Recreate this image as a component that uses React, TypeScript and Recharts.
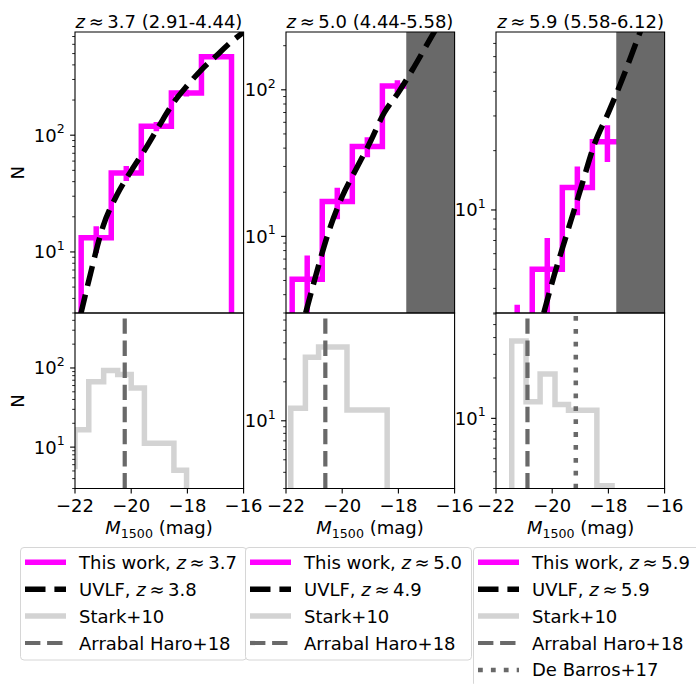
import React from 'react';
import { ComposedChart, Line, XAxis, YAxis, ReferenceArea, ReferenceLine } from 'recharts';

// ---------- style constants ----------
const FONT = '"DejaVu Sans", Verdana, sans-serif';
const FS = 18;
const FS_SMALL = 12.6;
const MAGENTA = '#ff00ff';
const LIGHT = '#d3d3d3';
const DIM = '#696969';

// ---------- data ----------
const X_DOMAIN: [number, number] = [-22, -16];
const X_TICKS = [-22, -20, -18, -16];
const X_TICK_LABELS = ['\u221222', '\u221220', '\u221218', '\u221216'];

const PANEL_Z = ['3.7', '5.0', '5.9'];
const PANEL_RANGE = ['(2.91-4.44)', '(4.44-5.58)', '(5.58-6.12)'];
const UVLF_Z = ['3.8', '4.9', '5.9'];

// y-axis limits (log)
const TOP_YLIM: [number, number][] = [[3, 765], [3, 248], [3, 80]];
const BOT_YLIM: [number, number][] = [[3, 495], [3, 68], [3, 61]];

// This work: step histogram (bin edges in M1500)
const BIN_EDGES = [-21.78, -20.71, -19.64, -18.57, -17.5, -16.43];
const BIN_CENTERS = [-21.245, -20.175, -19.105, -18.035, -16.965];
const THIS_WORK_Z37 = [13.2, 47.5, 119, 230, 469];
const THIS_WORK_Z37_ERR = [3.4, 6.9, 10.9, 15.2, 21.7];
const THIS_WORK_Z50 = [5.1, 17.3, 41, 106];
const THIS_WORK_Z50_ERR = [2.3, 4.2, 6.4, 10.3];
const THIS_WORK_Z59 = [1.9, 5.0, 13.0, 22.2];
const THIS_WORK_Z59_ERR = [1.4, 2.2, 3.6, 4.7];

// UVLF curves
const UVLF_Z38_MAG = [-21.8, -21.5, -21.0, -20.5, -20.0, -19.5, -19.0, -18.5, -18.0, -17.5, -17.0, -16.5, -16.0];
const UVLF_Z38_N = [2.9, 5.8, 16.6, 31, 49.5, 76, 121, 189, 267, 363, 471, 612, 765];
const UVLF_Z49_MAG = [-21.3, -21.0, -20.5, -20.0, -19.5, -19.0, -18.5, -18.0, -17.5, -17.0, -16.5];
const UVLF_Z49_N = [3.0, 4.9, 10.5, 18.7, 28.9, 44.2, 70, 96, 137, 201, 295];
const UVLF_Z59_MAG = [-20.3, -20.0, -19.5, -19.0, -18.5, -18.0, -17.5, -17.0, -16.5];
const UVLF_Z59_N = [3.0, 4.3, 7.4, 12.6, 21.5, 31.2, 46.3, 71.5, 110];

// Stark+10 step histograms
const STARK_Z37_EDGES = [-22.5, -22.0, -21.51, -20.98, -20.48, -20.0, -19.53, -18.48, -18.03];
const STARK_Z37_N = [5.7, 16.6, 67, 93, 83, 56, 11.2, 5.1];
const STARK_Z50_EDGES = [-21.83, -21.31, -20.84, -19.83, -18.4];
const STARK_Z50_N = [12.5, 31, 37.2, 12.1];
const STARK_Z59_EDGES = [-21.44, -20.93, -20.43, -19.9, -19.42, -18.41, -17.87];
const STARK_Z59_N = [37.8, 13.3, 21.4, 12.7, 11.5, 3.14];

// reference vertical lines
const ARRABAL_HARO = [-20.23, -20.6, -20.88];
const DE_BARROS_Z59 = -19.16;

// incompleteness shading start
const SHADE_START = [null, -17.72, -17.72];

// histogram baseline (zero; below the log axis, so clipped)
const HIST_FLOOR = 0.1;

// ---------- layout ----------
const PANEL_LEFT = [74.7, 285.7, 496.3];
const PANEL_W = 168.6;
const TOP_Y = 32.3;
const MID_Y = 313.3;
const BOT_Y = 488.8;

const ML = 70;
const MT = 10;
const MR = 30;

function stepTable(edges: number[], values: number[]) {
  const rows: { x: number; y: number }[] = [{ x: edges[0], y: HIST_FLOOR }];
  values.forEach((v, i) => rows.push({ x: edges[i], y: v }));
  rows.push({ x: edges[values.length], y: values[values.length - 1] });
  rows.push({ x: edges[values.length], y: HIST_FLOOR });
  return rows;
}

function curveTable(xs: number[], ys: number[]) {
  return xs.map((x, i) => ({ x, y: ys[i] }));
}

function logTicks(lo: number, hi: number) {
  const out: number[] = [];
  for (let e = -1; e <= 4; e++) {
    for (let m = 1; m <= 9; m++) {
      const v = m * Math.pow(10, e);
      if (v >= lo - 1e-9 && v <= hi * 0.995) out.push(Number(v.toPrecision(6)));
    }
  }
  return out;
}

function YTick(props: any) {
  const { y, payload } = props;
  const v = payload.value;
  const ex = Math.log10(v);
  const major = Math.abs(ex - Math.round(ex)) < 1e-6;
  return (
    <g>
      <line
        x1={ML - (major ? 4.9 : 2.8)}
        x2={ML}
        y1={y}
        y2={y}
        stroke="#000"
        strokeWidth={major ? 1.1 : 0.85}
      />
      {major && (
        <text x={ML - 10.3} y={y + 6.5} textAnchor="end" fontSize={FS} fontFamily={FONT} fill="#000">
          10
          <tspan dy={-8.6} fontSize={FS_SMALL}>
            {Math.round(ex)}
          </tspan>
        </text>
      )}
    </g>
  );
}

function XTick(props: any) {
  const { x, payload, plotBottom } = props;
  const idx = X_TICKS.indexOf(payload.value);
  return (
    <g>
      <line x1={x} x2={x} y1={plotBottom} y2={plotBottom + 4.9} stroke="#000" strokeWidth={1.1} />
      <text x={x} y={plotBottom + 23.6} textAnchor="middle" fontSize={FS} fontFamily={FONT} fill="#000">
        {X_TICK_LABELS[idx]}
      </text>
    </g>
  );
}

function Panel(props: {
  left: number;
  top: number;
  height: number;
  ylim: [number, number];
  showX: boolean;
  children: React.ReactNode;
}) {
  const { left, top, height, ylim, showX, children } = props;
  const chartW = PANEL_W + ML + MR;
  const bottomSpace = showX ? 40 : 10;
  const chartH = height + MT + bottomSpace;
  const plotBottom = MT + height;
  const yTicks = logTicks(ylim[0], ylim[1]);
  return (
    <div style={{ position: 'absolute', left: left - ML, top: top - MT, width: chartW, height: chartH }}>
      <ComposedChart
        width={chartW}
        height={chartH}
        margin={{ top: MT, right: MR, left: 0, bottom: showX ? 0 : bottomSpace }}
      >
        <XAxis
          type="number"
          dataKey="x"
          domain={X_DOMAIN}
          allowDataOverflow
          ticks={X_TICKS}
          interval={0}
          hide={!showX}
          height={40}
          tickLine={false}
          axisLine={false}
          tick={(p: any) => <XTick {...p} plotBottom={plotBottom} />}
        />
        <YAxis
          type="number"
          scale="log"
          domain={ylim}
          allowDataOverflow
          ticks={yTicks}
          interval={0}
          width={ML}
          tickLine={false}
          axisLine={false}
          tick={(p: any) => <YTick {...p} />}
        />
        {children}
        <ReferenceArea
          x1={X_DOMAIN[0]}
          x2={X_DOMAIN[1]}
          y1={ylim[0]}
          y2={ylim[1]}
          fill="none"
          fillOpacity={0}
          stroke="#000"
          strokeWidth={1.1}
          ifOverflow="visible"
          zIndex={700}
        />
      </ComposedChart>
    </div>
  );
}

const THIS_WORK = [THIS_WORK_Z37, THIS_WORK_Z50, THIS_WORK_Z59];
const THIS_WORK_ERR = [THIS_WORK_Z37_ERR, THIS_WORK_Z50_ERR, THIS_WORK_Z59_ERR];
const UVLF = [
  curveTable(UVLF_Z38_MAG, UVLF_Z38_N),
  curveTable(UVLF_Z49_MAG, UVLF_Z49_N),
  curveTable(UVLF_Z59_MAG, UVLF_Z59_N),
];
const STARK = [
  stepTable(STARK_Z37_EDGES, STARK_Z37_N),
  stepTable(STARK_Z50_EDGES, STARK_Z50_N),
  stepTable(STARK_Z59_EDGES, STARK_Z59_N),
];

function topSeries(i: number) {
  const vals = THIS_WORK[i];
  const errs = THIS_WORK_ERR[i];
  const els: React.ReactNode[] = [];
  els.push(
    <Line
      key="hist"
      data={stepTable(BIN_EDGES.slice(0, vals.length + 1), vals)}
      dataKey="y"
      type="stepAfter"
      stroke={MAGENTA}
      strokeWidth={5.5}
      dot={false}
      activeDot={false}
      isAnimationActive={false}
      zIndex={400}
    />
  );
  vals.forEach((v, k) => {
    els.push(
      <Line
        key={'err' + k}
        data={[
          { x: BIN_CENTERS[k], y: v - errs[k] },
          { x: BIN_CENTERS[k], y: v + errs[k] },
        ]}
        dataKey="y"
        type="linear"
        stroke={MAGENTA}
        strokeWidth={5.5}
        dot={false}
        activeDot={false}
        isAnimationActive={false}
        zIndex={400}
      />
    );
  });
  const s = SHADE_START[i];
  if (s !== null) {
    els.push(
      <ReferenceArea
        key="shade"
        x1={s}
        x2={X_DOMAIN[1]}
        fill={DIM}
        fillOpacity={1}
        stroke="none"
        zIndex={450}
      />
    );
  }
  els.push(
    <Line
      key="uvlf"
      data={UVLF[i]}
      dataKey="y"
      type="monotone"
      stroke="#000"
      strokeWidth={5.5}
      strokeDasharray="20.5 8.9"
      dot={false}
      activeDot={false}
      isAnimationActive={false}
      zIndex={500}
    />
  );
  return els;
}

function bottomSeries(i: number) {
  const els: React.ReactNode[] = [];
  els.push(
    <Line
      key="stark"
      data={STARK[i]}
      dataKey="y"
      type="stepAfter"
      stroke={LIGHT}
      strokeWidth={5.5}
      dot={false}
      activeDot={false}
      isAnimationActive={false}
      zIndex={400}
    />
  );
  els.push(
    <ReferenceLine
      key="ah"
      x={ARRABAL_HARO[i]}
      stroke={DIM}
      strokeWidth={4.2}
      strokeDasharray="15.4 6.7"
      zIndex={500}
    />
  );
  if (i === 2) {
    els.push(
      <ReferenceLine
        key="db"
        x={DE_BARROS_Z59}
        stroke={DIM}
        strokeWidth={4.5}
        strokeDasharray="4.8 8.1"
        zIndex={500}
      />
    );
  }
  return els;
}

function ZText({ z }: { z: string }) {
  return (
    <>
      <tspan fontStyle="italic">z</tspan>
      {'\u2009\u2248\u2009' + z}
    </>
  );
}

function LegendBox({ left, col }: { left: number; col: number }) {
  const rows: { label: React.ReactNode; stroke: string; w: number; dash?: string }[] = [
    {
      label: (
        <>
          {'This work, '}
          <ZText z={PANEL_Z[col]} />
        </>
      ),
      stroke: MAGENTA,
      w: 5.5,
    },
    {
      label: (
        <>
          {'UVLF, '}
          <ZText z={UVLF_Z[col]} />
        </>
      ),
      stroke: '#000',
      w: 5.5,
      dash: '20.5 8.9',
    },
    { label: 'Stark+10', stroke: LIGHT, w: 5.5 },
    { label: 'Arrabal Haro+18', stroke: DIM, w: 4.2, dash: '15.4 6.7' },
  ];
  if (col === 2) rows.push({ label: 'De Barros+17', stroke: DIM, w: 4.5, dash: '4.8 8.1' });
  const rowStep = 26.9;
  const h = 112.5 + (rows.length - 4) * rowStep;
  return (
    <svg
      style={{ position: 'absolute', left, top: 547, overflow: 'visible' }}
      width={230}
      height={h + 2}
    >
      <rect x={0.5} y={0.5} width={226} height={h} rx={3.5} ry={3.5} fill="#fff" stroke="#d6d6d6" strokeWidth={1} />
      {rows.map((r, k) => {
        const cy = 15.3 + k * rowStep;
        return (
          <g key={k}>
            <line x1={5} x2={46} y1={cy} y2={cy} stroke={r.stroke} strokeWidth={r.w} strokeDasharray={r.dash} />
            <text x={59} y={cy + 6.5} fontSize={FS} fontFamily={FONT} fill="#000">
              {r.label}
            </text>
          </g>
        );
      })}
    </svg>
  );
}

export default function App() {
  const topH = MID_Y - TOP_Y;
  const botH = BOT_Y - MID_Y;
  return (
    <div
      style={{
        position: 'fixed',
        left: 0,
        top: 0,
        width: 696,
        height: 684,
        overflow: 'hidden',
        background: '#fff',
        fontFamily: FONT,
      }}
    >
      {[0, 1, 2].map((i) => (
        <Panel key={'t' + i} left={PANEL_LEFT[i]} top={TOP_Y} height={topH} ylim={TOP_YLIM[i]} showX={false}>
          {topSeries(i)}
        </Panel>
      ))}
      {[0, 1, 2].map((i) => (
        <Panel key={'b' + i} left={PANEL_LEFT[i]} top={MID_Y} height={botH} ylim={BOT_YLIM[i]} showX={true}>
          {bottomSeries(i)}
        </Panel>
      ))}
      <svg style={{ position: 'absolute', left: 0, top: 0, pointerEvents: 'none' }} width={696} height={684}>
        {[0, 1, 2].map((i) => {
          const cx = PANEL_LEFT[i] + PANEL_W / 2;
          return (
            <g key={i}>
              <text x={cx} y={28.3} textAnchor="middle" fontSize={FS} fontFamily={FONT} fill="#000">
                <ZText z={PANEL_Z[i]} />
                {' ' + PANEL_RANGE[i]}
              </text>
              <text x={cx} y={534.3} textAnchor="middle" fontSize={FS} fontFamily={FONT} fill="#000">
                <tspan fontStyle="italic">M</tspan>
                <tspan fontSize={FS_SMALL} dy={3.2}>
                  1500
                </tspan>
                <tspan dy={-3.2}>{' (mag)'}</tspan>
              </text>
            </g>
          );
        })}
        <text transform="translate(24,172.8) rotate(-90)" textAnchor="middle" fontSize={FS} fontFamily={FONT} fill="#000">
          N
        </text>
        <text transform="translate(24,401) rotate(-90)" textAnchor="middle" fontSize={FS} fontFamily={FONT} fill="#000">
          N
        </text>
      </svg>
      <LegendBox left={19.5} col={0} />
      <LegendBox left={245.4} col={1} />
      <LegendBox left={472.7} col={2} />
    </div>
  );
}
